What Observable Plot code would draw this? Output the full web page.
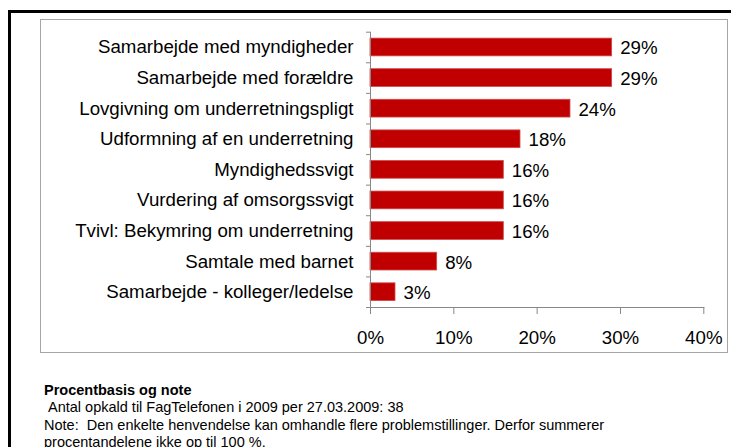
<!DOCTYPE html>
<html>
<head>
<meta charset="utf-8">
<script src="https://cdn.jsdelivr.net/npm/d3@7"></script>
<script src="https://cdn.jsdelivr.net/npm/@observablehq/plot@0.6"></script>
<style>
  html, body { margin: 0; padding: 0; background: #fff; }
  #page { position: relative; width: 731px; height: 447px; overflow: hidden; font-family: "Liberation Sans", Arial, sans-serif; }
  #frame { position: absolute; left: 8px; top: 10px; width: 800px; height: 500px; border-left: 3px solid #000; border-top: 3px solid #000; }
  #chart { position: absolute; left: 40px; top: 19px; width: 686px; height: 332px; border: 1px solid #a6a6a6; }
  #chart svg { display: block; }
  #notes { position: absolute; left: 44px; top: 382px; font-size: 14.5px; line-height: 17.3px; color: #000; white-space: nowrap; }
  #notes b { font-weight: bold; }
</style>
</head>
<body>
<div id="page">
  <div id="frame"></div>
  <div id="chart"></div>
  <div id="notes"></div>
</div>
<script>
const categories = [
  "Samarbejde med myndigheder",
  "Samarbejde med forældre",
  "Lovgivning om underretningspligt",
  "Udformning af en underretning",
  "Myndighedssvigt",
  "Vurdering af omsorgssvigt",
  "Tvivl: Bekymring om underretning",
  "Samtale med barnet",
  "Samarbejde - kolleger/ledelse"
];
const values = [29, 29, 24, 18, 16, 16, 16, 8, 3];
const xTicks = [0, 10, 20, 30, 40];
const noteTitle = "Procentbasis og note";
const noteLines = [
  "\u00a0Antal opkald til FagTelefonen i 2009 per 27.03.2009: 38",
  "Note:\u00a0 Den enkelte henvendelse kan omhandle flere problemstillinger. Derfor summerer",
  "procentandelene ikke op til 100 %."
];

const data = categories.map((c, i) => ({label: c, value: values[i]}));

const W = 686, H = 332, mt = 11.7, mb = 45, ml = 329, mr = 23.7;
const pIn = 0.42, pOut = 0.21;
const step = (H - mt - mb) / (categories.length - pIn + 2 * pOut);
const axisGray = "#888888";
const fs = 18.7;

const plot = Plot.plot({
  width: W,
  height: H,
  marginTop: mt,
  marginBottom: mb,
  marginLeft: ml,
  marginRight: mr,
  style: {fontFamily: '"Liberation Sans", Arial, sans-serif', fontSize: fs + "px", color: "#000", background: "transparent"},
  x: {domain: [0, 40], label: null},
  y: {domain: categories, paddingInner: pIn, paddingOuter: pOut, round: false, label: null},
  marks: [
    Plot.barX(data, {x: "value", y: "label", fill: "#C00000", stroke: "#d04848", strokeWidth: 0.8}),
    Plot.text(data, {x: "value", y: "label", text: d => d.value + "%", textAnchor: "start", dx: 8, dy: 1, fontSize: fs, fill: "#000"}),
    Plot.ruleX([0], {stroke: axisGray}),
    Plot.frame({anchor: "bottom", stroke: axisGray}),
    Plot.ruleY(categories, {y: d => d, x1: 0, x2: 0, insetLeft: -4, dy: -step / 2, stroke: axisGray}),
    Plot.ruleY(categories.slice(-1), {y: d => d, x1: 0, x2: 0, insetLeft: -4, dy: step / 2, stroke: axisGray}),
    Plot.axisY({tickSize: 0, tickPadding: 17, fontSize: fs, fill: "#000"}),
    Plot.axisX({anchor: "bottom", ticks: xTicks, tickFormat: d => d + "%", tickSize: 7, tickPadding: 16, stroke: axisGray, fontSize: fs, fill: "#000"})
  ]
});
document.getElementById("chart").appendChild(plot);

const notes = document.getElementById("notes");
notes.innerHTML = "<b>" + noteTitle + "</b><br>" + noteLines.join("<br>");
</script>
</body>
</html>
